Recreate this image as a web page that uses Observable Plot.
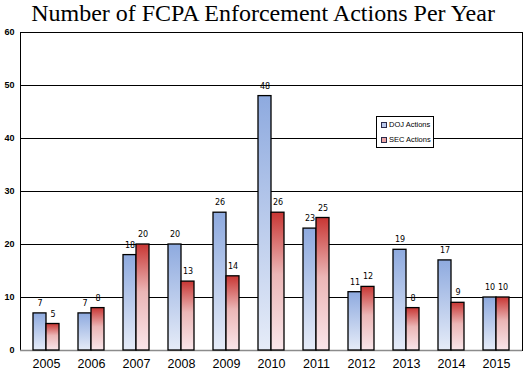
<!DOCTYPE html>
<html>
<head>
<meta charset="utf-8">
<script src="https://cdn.jsdelivr.net/npm/d3@7"></script>
<script src="https://cdn.jsdelivr.net/npm/@observablehq/plot@0.6"></script>
<style>
  html, body { margin: 0; padding: 0; background: #fff; }
  #wrap { position: relative; width: 526px; height: 377px; overflow: hidden; }
  #title { height: 28px; line-height: 26px; text-align: center; font-family: "Liberation Serif", "Times New Roman", serif; font-size: 24px; color: #000; white-space: nowrap; }
  #legend { position: absolute; left: 376px; top: 116px; width: 56px; height: 30px; border: 1px solid #000; background: #fff; font-family: "Liberation Sans", Arial, sans-serif; font-size: 7.5px; color: #000; }
  #legend .item { position: absolute; left: 4px; display: flex; align-items: center; white-space: nowrap; }
  #legend .sw { width: 4px; height: 4px; border: 1px solid #2b2b4a; margin-right: 2px; }
</style>
</head>
<body>
<div id="wrap">
  <div id="title">Number of FCPA Enforcement Actions Per Year</div>
  <div id="chart"></div>
  <div id="legend"></div>
</div>
<script>
const years = ["2005","2006","2007","2008","2009","2010","2011","2012","2013","2014","2015"];
const dojActions = [7, 7, 18, 20, 26, 48, 23, 11, 19, 17, 10];
const secActions = [5, 8, 20, 13, 14, 26, 25, 12, 8, 9, 10];
const seriesNames = ["DOJ Actions", "SEC Actions"];
const yTicks = [0, 10, 20, 30, 40, 50, 60];

const doj = years.map((year, i) => ({year, value: dojActions[i]}));
const sec = years.map((year, i) => ({year, value: secActions[i]}));

const svg = Plot.plot({
  width: 526,
  height: 349,
  marginTop: 4,
  marginBottom: 27,
  marginLeft: 20,
  marginRight: 4,
  x: {domain: years, paddingInner: 0.43, paddingOuter: 0.215, label: null},
  y: {domain: [0, 60], label: null},
  marks: [
    Plot.ruleY(yTicks.filter(d => d > 0 && d < 60), {stroke: "#000", strokeWidth: 1}),
    Plot.frame({stroke: "#000", strokeWidth: 1}),
    Plot.ruleY([0], {stroke: "#8c8c8c", strokeWidth: 1.5}),
    Plot.barY(doj, {x: "year", y: "value", insetRight: 13, fill: "url(#gradDOJ)", stroke: "#000", strokeWidth: 1.3}),
    Plot.barY(sec, {x: "year", y: "value", insetLeft: 13, fill: "url(#gradSEC)", stroke: "#000", strokeWidth: 1.3}),
    Plot.text(doj, {x: "year", y: "value", text: d => String(d.value), dx: -6.5, dy: -10, fontSize: 8, fontFamily: "DejaVu Sans, sans-serif", fill: "#000"}),
    Plot.text(sec, {x: "year", y: "value", text: d => String(d.value), dx: 6.5, dy: -10, fontSize: 8, fontFamily: "DejaVu Sans, sans-serif", fill: "#000"}),
    Plot.axisY({ticks: yTicks, tickSize: 0, tickPadding: 6, fontSize: 9, fontWeight: "bold", fontFamily: "Liberation Sans, Arial, sans-serif", label: null}),
    Plot.axisX({tickSize: 0, tickPadding: 9, fontSize: 12.5, fontFamily: "Liberation Sans, Arial, sans-serif", label: null})
  ]
});

const defs = d3.select(svg).insert("defs", ":first-child");
const g1 = defs.append("linearGradient").attr("id", "gradDOJ").attr("x1", 0).attr("y1", 0).attr("x2", 0).attr("y2", 1);
g1.append("stop").attr("offset", "0%").attr("stop-color", "#8eaadf");
g1.append("stop").attr("offset", "100%").attr("stop-color", "#e6ecf8");
const g2 = defs.append("linearGradient").attr("id", "gradSEC").attr("x1", 0).attr("y1", 0).attr("x2", 0).attr("y2", 1);
g2.append("stop").attr("offset", "0%").attr("stop-color", "#c83633");
g2.append("stop").attr("offset", "45%").attr("stop-color", "#ebb6b6");
g2.append("stop").attr("offset", "100%").attr("stop-color", "#f9e6ea");

document.getElementById("chart").appendChild(svg);

const legend = document.getElementById("legend");
const swatchColors = ["#b9c9ec", "#eaa3a3"];
seriesNames.forEach((name, i) => {
  const item = document.createElement("div");
  item.className = "item";
  item.style.top = (i === 0 ? 3 : 18) + "px";
  const sw = document.createElement("span");
  sw.className = "sw";
  sw.style.background = swatchColors[i];
  const t = document.createElement("span");
  t.textContent = name;
  item.appendChild(sw);
  item.appendChild(t);
  legend.appendChild(item);
});
</script>
</body>
</html>
